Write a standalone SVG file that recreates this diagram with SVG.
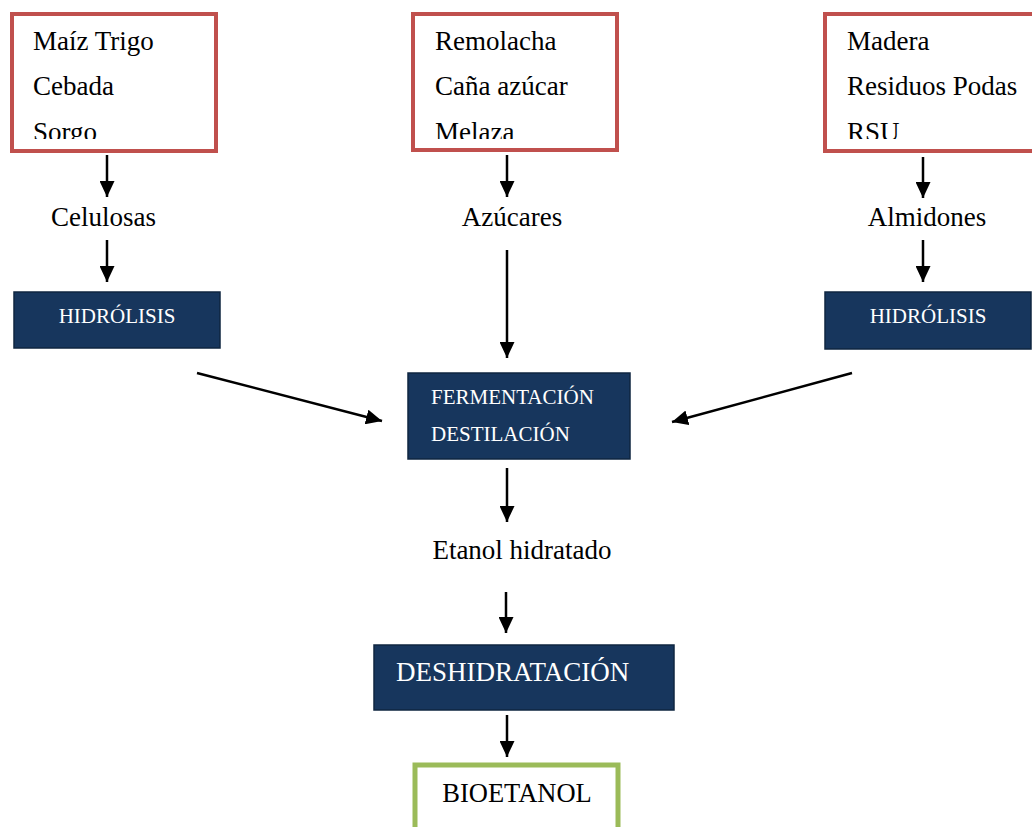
<svg xmlns="http://www.w3.org/2000/svg" width="1032" height="827" viewBox="0 0 1032 827">
<defs>
<style>
.src{fill:#fff;stroke:#C0504D;stroke-width:4}
.proc{fill:#17365D;stroke:#0F2640;stroke-width:1.5}
.out{fill:#fff;stroke:#9BBB59;stroke-width:5}
.t{font-family:"Liberation Serif","Times New Roman",serif;fill:#000;font-size:27px}
.w{font-family:"Liberation Serif","Times New Roman",serif;fill:#fff}
.c{stroke:#000;stroke-width:2.5;fill:none;marker-end:url(#ah)}
</style>
<marker id="ah" viewBox="0 0 16 15" refX="16" refY="7.5" markerWidth="16" markerHeight="15" markerUnits="userSpaceOnUse" orient="auto">
<path d="M0,0 L16,7.5 L0,15 Z" fill="#000"/>
</marker>
<clipPath id="cp1"><rect x="14" y="16" width="200" height="123"/></clipPath>
<clipPath id="cp2"><rect x="415" y="16" width="200" height="123"/></clipPath>
<clipPath id="cp3"><rect x="827" y="16" width="205" height="123"/></clipPath>
</defs>
<rect width="1032" height="827" fill="#fff"/>
<g id="connectors">
<line class="c" x1="107" y1="155" x2="107" y2="197"/>
<line class="c" x1="107" y1="240" x2="107" y2="282"/>
<line class="c" x1="507" y1="155" x2="507" y2="197"/>
<line class="c" x1="507" y1="250" x2="507" y2="358"/>
<line class="c" x1="923" y1="157" x2="923" y2="198"/>
<line class="c" x1="923" y1="240" x2="923" y2="282"/>
<line class="c" x1="197" y1="373" x2="382" y2="421"/>
<line class="c" x1="852" y1="373" x2="672" y2="422"/>
<line class="c" x1="507" y1="468" x2="507" y2="522"/>
<line class="c" x1="506" y1="592" x2="506" y2="633"/>
<line class="c" x1="507" y1="715" x2="507" y2="757"/>
</g>
<g id="src1">
<rect class="src" x="12" y="14" width="204" height="137"/>
<g clip-path="url(#cp1)">
<text class="t" x="33" y="50">Maíz Trigo</text>
<text class="t" x="33" y="95">Cebada</text>
<text class="t" x="33" y="141">Sorgo</text>
</g>
</g>
<g id="src2">
<rect class="src" x="413" y="14" width="204" height="136"/>
<g clip-path="url(#cp2)">
<text class="t" x="435" y="50">Remolacha</text>
<text class="t" x="435" y="95">Caña azúcar</text>
<text class="t" x="435" y="141">Melaza</text>
</g>
</g>
<g id="src3">
<rect class="src" x="825" y="14" width="212" height="137"/>
<g clip-path="url(#cp3)">
<text class="t" x="847" y="50">Madera</text>
<text class="t" x="847" y="95">Residuos Podas</text>
<text class="t" x="847" y="141">RSU</text>
</g>
</g>
<g id="celulosas"><text class="t" x="103.5" y="226" text-anchor="middle">Celulosas</text></g>
<g id="azucares"><text class="t" x="512" y="226" text-anchor="middle">Azúcares</text></g>
<g id="almidones"><text class="t" x="927" y="226" text-anchor="middle">Almidones</text></g>
<g id="hidrolisis1">
<rect class="proc" x="14" y="292" width="206" height="56"/>
<text class="w" x="117" y="323" font-size="21" text-anchor="middle">HIDRÓLISIS</text>
</g>
<g id="hidrolisis2">
<rect class="proc" x="825" y="292" width="206" height="57"/>
<text class="w" x="928" y="323" font-size="21" text-anchor="middle">HIDRÓLISIS</text>
</g>
<g id="fermentacion">
<rect class="proc" x="408" y="373" width="222" height="86"/>
<text class="w" x="431" y="404" font-size="21">FERMENTACIÓN</text>
<text class="w" x="431" y="441" font-size="21">DESTILACIÓN</text>
</g>
<g id="etanol"><text class="t" x="522" y="559" text-anchor="middle">Etanol hidratado</text></g>
<g id="deshidratacion">
<rect class="proc" x="374" y="645" width="300" height="65"/>
<text class="w" x="396" y="681" font-size="27">DESHIDRATACIÓN</text>
</g>
<g id="bioetanol">
<rect class="out" x="415" y="765" width="203" height="80"/>
<text class="t" x="517" y="802" text-anchor="middle" style="font-size:26.5px">BIOETANOL</text>
</g>
</svg>
